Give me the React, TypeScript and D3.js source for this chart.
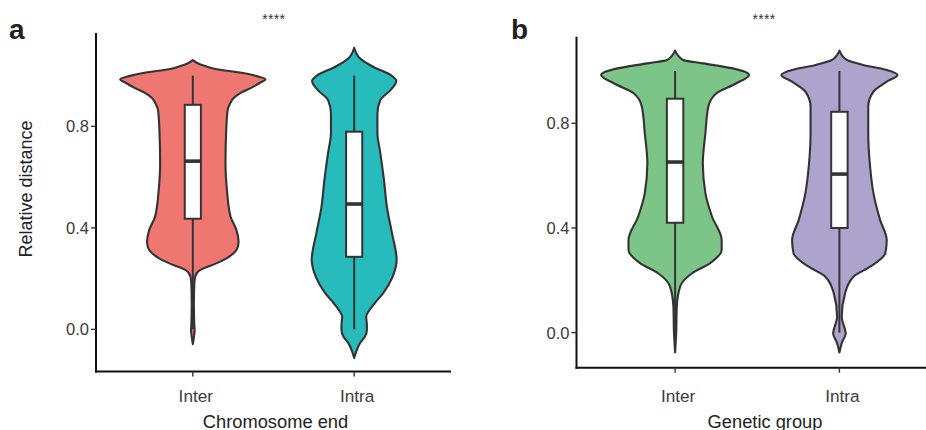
import React from "react";
import * as d3 from "d3";

// ---------- data ----------
const categories = ["Inter", "Intra"];
const yTicks = [0.0, 0.4, 0.8];
const yTickLabels = ["0.0", "0.4", "0.8"];

// violin profiles: [value, relative half-width (1 = full 0.45 band)]
const chromInterViolin: [number, number][] = [
  [1.061, 0], [1.05, 0.06], [1.038, 0.17], [1.025, 0.33], [1.012, 0.65], [0.998, 0.88],
  [0.986, 1.0], [0.971, 0.92], [0.95, 0.79], [0.932, 0.66], [0.911, 0.56], [0.888, 0.51],
  [0.865, 0.48], [0.786, 0.46], [0.656, 0.45], [0.549, 0.47], [0.444, 0.52], [0.392, 0.6],
  [0.346, 0.63], [0.325, 0.62], [0.3, 0.56], [0.281, 0.47], [0.261, 0.33], [0.234, 0.1],
  [0.208, 0.032], [0.175, 0.02], [0.1, 0.015], [0.02, 0.02], [0.0, 0.025], [-0.03, 0.015],
  [-0.058, 0],
];
const chromIntraViolin: [number, number][] = [
  [1.11, 0], [1.068, 0.08], [1.035, 0.26], [1.003, 0.5], [0.979, 0.58], [0.943, 0.5],
  [0.904, 0.36], [0.852, 0.32], [0.774, 0.32], [0.695, 0.36], [0.589, 0.41], [0.484, 0.45],
  [0.38, 0.52], [0.274, 0.585], [0.208, 0.53], [0.143, 0.4], [0.104, 0.285], [0.076, 0.21],
  [0.05, 0.165], [0.017, 0.175], [-0.002, 0.175], [-0.029, 0.147], [-0.054, 0.08],
  [-0.088, 0.028], [-0.113, 0],
];
const geneInterViolin: [number, number][] = [
  [1.078, 0], [1.042, 0.11], [1.029, 0.38], [1.01, 0.78], [0.985, 1.0], [0.953, 0.83],
  [0.915, 0.56], [0.864, 0.45], [0.762, 0.41], [0.647, 0.375], [0.533, 0.41], [0.443, 0.5],
  [0.354, 0.63], [0.316, 0.63], [0.265, 0.47], [0.227, 0.23], [0.176, 0.068], [0.099, 0.023],
  [0.0, 0.015], [-0.076, 0],
];
const geneIntraViolin: [number, number][] = [
  [1.078, 0], [1.042, 0.1], [1.023, 0.32], [1.004, 0.64], [0.985, 0.785], [0.959, 0.64],
  [0.921, 0.46], [0.864, 0.39], [0.762, 0.39], [0.634, 0.415], [0.533, 0.46], [0.431, 0.55],
  [0.354, 0.64], [0.303, 0.62], [0.252, 0.415], [0.214, 0.19], [0.151, 0.077], [0.061, 0.031],
  [0.01, 0.077], [-0.002, 0.085], [-0.04, 0.031], [-0.076, 0],
];

// box stats: [lower whisker, q1, median, q3, upper whisker]
const chromInterBox = [0.0, 0.436, 0.663, 0.885, 1.0];
const chromIntraBox = [0.0, 0.286, 0.494, 0.779, 1.0];
const geneInterBox = [0.0, 0.42, 0.652, 0.894, 1.0];
const geneIntraBox = [0.0, 0.4, 0.606, 0.844, 1.0];

const chromColors = ["#EE7771", "#27BBBB"];
const geneColors = ["#7CC487", "#AEA3CC"];

const FONT = "'Liberation Sans', Arial, Helvetica, sans-serif";

type PanelProps = {
  letter: string;
  letterX: number;
  xLeft: number;
  xRight: number;
  yTop: number;
  yBottom: number;
  yDomain: [number, number];
  violins: [number, number][][];
  boxes: number[][];
  colors: string[];
  xTitle: string;
  titleX: number;
  starsX: number;
  yTitle?: string;
};

function Panel(p: PanelProps) {
  // ggplot discrete: positions at 1,2 with limits 0.4..2.6
  const xl = d3.scaleLinear().domain([0.4, 2.6]).range([p.xLeft, p.xRight]);
  const unit = xl(1) - xl(0);
  const cx = (i: number) => xl(i + 1);
  const y = d3.scaleLinear().domain(p.yDomain).range([p.yBottom, p.yTop]);
  const stroke = "#333333";

  return (
    <g>
      <text x={p.letterX} y={39} fontFamily={FONT} fontWeight="bold" fontSize={28} fill="#231F20">
        {p.letter}
      </text>
      <text x={p.starsX} y={24} fontFamily={FONT} fontSize={14} fill="#333" textAnchor="middle" letterSpacing={0.3}>
        ****
      </text>
      {p.violins.map((v, i) => {
        const hw = unit * 0.45;
        const area = d3
          .area<[number, number]>()
          .y((d) => y(d[0]))
          .x0((d) => cx(i) - d[1] * hw)
          .x1((d) => cx(i) + d[1] * hw)
          .curve(d3.curveMonotoneY);
        const sorted = [...v].sort((a, b) => a[0] - b[0]);
        return (
          <path key={"v" + i} d={area(sorted) || ""} fill={p.colors[i]} stroke={stroke} strokeWidth={2.1} strokeLinejoin="round" />
        );
      })}
      {p.boxes.map((b, i) => {
        const bw = unit * 0.1;
        const c = cx(i);
        return (
          <g key={"b" + i}>
            <line x1={c} x2={c} y1={y(b[0])} y2={y(b[1])} stroke={stroke} strokeWidth={2} />
            <line x1={c} x2={c} y1={y(b[3])} y2={y(b[4])} stroke={stroke} strokeWidth={2} />
            <rect x={c - bw / 2} y={y(b[3])} width={bw} height={y(b[1]) - y(b[3])} fill="#fff" stroke={stroke} strokeWidth={2} />
            <line x1={c - bw / 2} x2={c + bw / 2} y1={y(b[2])} y2={y(b[2])} stroke={stroke} strokeWidth={3.6} />
          </g>
        );
      })}
      {/* axes */}
      <line x1={p.xLeft} x2={p.xLeft} y1={p.yTop} y2={p.yBottom + 1} stroke="#111" strokeWidth={2} />
      <line x1={p.xLeft - 1} x2={p.xRight} y1={p.yBottom} y2={p.yBottom} stroke="#111" strokeWidth={2} />
      {yTicks.map((t, i) => (
        <g key={"yt" + i}>
          <line x1={p.xLeft - 5} x2={p.xLeft} y1={y(t)} y2={y(t)} stroke="#333" strokeWidth={1.4} />
          <text x={p.xLeft - 7} y={y(t)} dy="0.36em" textAnchor="end" fontFamily={FONT} fontSize={16.5} fill="#3A3A3A">
            {yTickLabels[i]}
          </text>
        </g>
      ))}
      {categories.map((c, i) => (
        <g key={"xt" + i}>
          <line x1={cx(i)} x2={cx(i)} y1={p.yBottom} y2={p.yBottom + 5} stroke="#333" strokeWidth={1.4} />
          <text x={cx(i) + 3} y={401.5} textAnchor="middle" fontFamily={FONT} fontSize={17.2} fill="#3A3A3A">
            {c}
          </text>
        </g>
      ))}
      <text x={p.titleX} y={427.5} textAnchor="middle" fontFamily={FONT} fontSize={18.3} fill="#222">
        {p.xTitle}
      </text>
      {p.yTitle ? (
        <text transform={`translate(31.5,189) rotate(-90)`} textAnchor="middle" fontFamily={FONT} fontSize={18} fill="#222">
          {p.yTitle}
        </text>
      ) : null}
    </g>
  );
}

export default function App() {
  return (
    <svg
      width={926}
      height={430}
      style={{ position: "absolute", left: 0, top: 0, background: "#fff" }}
    >
      <rect width={926} height={430} fill="#fff" />
      <Panel
        letter="a"
        letterX={9}
        xLeft={96}
        xRight={451}
        yTop={33}
        yBottom={371.5}
        yDomain={[-0.166, 1.168]}
        violins={[chromInterViolin, chromIntraViolin]}
        boxes={[chromInterBox, chromIntraBox]}
        colors={chromColors}
        xTitle="Chromosome end"
        titleX={275.5}
        starsX={273.7}
        yTitle="Relative distance"
      />
      <Panel
        letter="b"
        letterX={511}
        xLeft={576.5}
        xRight={938}
        yTop={36.7}
        yBottom={367.7}
        yDomain={[-0.134, 1.131]}
        violins={[geneInterViolin, geneIntraViolin]}
        boxes={[geneInterBox, geneIntraBox]}
        colors={geneColors}
        xTitle="Genetic group"
        titleX={765}
        starsX={764}
      />
    </svg>
  );
}
